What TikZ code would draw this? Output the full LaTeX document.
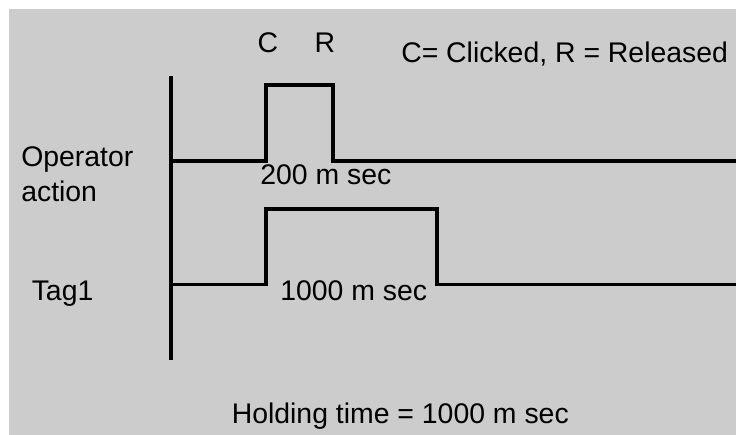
\documentclass[tikz,border=0pt]{standalone}
\usepackage{fontspec}
\setmainfont{Liberation Sans}
\definecolor{bggray}{HTML}{CCCCCC}
\begin{document}
\begin{tikzpicture}[x=0.75pt,y=-0.75pt,
  lbl/.style={inner sep=0pt,anchor=base west,font=\fontsize{21.3}{25}\selectfont},
  sig/.style={line width=2.3pt,black,line join=miter}]
\useasboundingbox (0,0) rectangle (736,435);
\fill[white] (0,0) rectangle (736,435);
\fill[bggray] (9,9) rectangle (736,435);
% axis
\coordinate (axtop) at (171,76);
\coordinate (axbot) at (171,360);
\draw[sig] (axtop) -- (axbot);
% operator action signal
\coordinate (o0) at (171,161);
\coordinate (o1) at (266,161);
\coordinate (o2) at (266,85);
\coordinate (o3) at (333,85);
\coordinate (o4) at (333,161);
\coordinate (o5) at (736,161);
\draw[sig] (o0) -- (o1) -- (o2) -- (o3) -- (o4) -- (o5);
% tag1 signal
\coordinate (t0) at (171,284.5);
\coordinate (t1) at (266,284.5);
\coordinate (t2) at (266,209);
\coordinate (t3) at (437,209);
\coordinate (t4) at (437,284.5);
\coordinate (t5) at (736,284.5);
\draw[sig] (t0) -- (t1) -- (t2) -- (t3) -- (t4) -- (t5);
% labels
\node[lbl,anchor=base] (c) at (268,53) {C};
\node[lbl,anchor=base] (r) at (325,53) {R};
\node[lbl] (legend) at (401,62.7) {C= Clicked, R = Released};
\node[lbl] (op) at (21,166.7) {Operator};
\node[lbl] (act) at (21,201.7) {action};
\node[lbl] (d200) at (260,185) {200 m sec};
\node[lbl] (tag) at (31.5,300) {Tag1};
\node[lbl] (d1000) at (280,300) {1000 m sec};
\node[lbl] (hold) at (231.5,423.3) {Holding time = 1000 m sec};
\end{tikzpicture}
\end{document}
